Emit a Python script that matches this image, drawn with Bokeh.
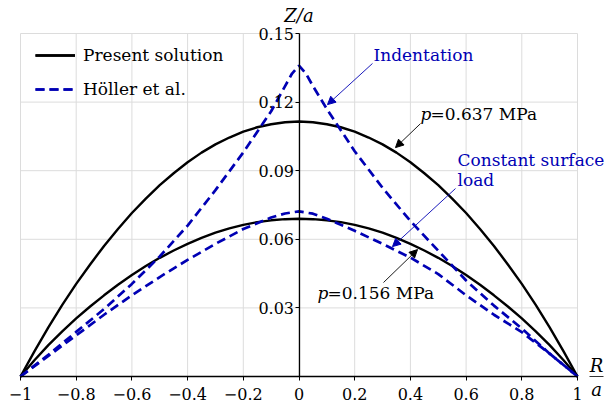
import math
from bokeh.plotting import figure
from bokeh.models import Range1d, FixedTicker, Label, Arrow, NormalHead
from bokeh.embed import file_html
from bokeh.resources import INLINE

# ---------------- data ----------------
x_present = [-1.0, -0.95, -0.9, -0.85, -0.8, -0.75, -0.7, -0.65, -0.6, -0.55, -0.5, -0.45, -0.4,
             -0.35, -0.3, -0.25, -0.2, -0.15, -0.1, -0.05, 0.0, 0.05, 0.1, 0.15, 0.2, 0.25, 0.3,
             0.35, 0.4, 0.45, 0.5, 0.55, 0.6, 0.65, 0.7, 0.75, 0.8, 0.85, 0.9, 0.95, 1.0]
z_present_high = [0.0, 0.0110, 0.0215, 0.0313, 0.0405, 0.0490, 0.0571, 0.0645, 0.0715, 0.0778,
                  0.0837, 0.0889, 0.0937, 0.0979, 0.1015, 0.1045, 0.1071, 0.1090, 0.1103, 0.1112,
                  0.1115,
                  0.1112, 0.1103, 0.1090, 0.1071, 0.1045, 0.1015, 0.0979, 0.0937, 0.0889, 0.0837,
                  0.0778, 0.0715, 0.0645, 0.0571, 0.0490, 0.0405, 0.0313, 0.0215, 0.0110, 0.0]
z_present_low = [0.0, 0.0071, 0.0137, 0.0197, 0.0254, 0.0306, 0.0355, 0.0401, 0.0444, 0.0483,
                 0.0519, 0.0551, 0.0580, 0.0606, 0.0629, 0.0648, 0.0663, 0.0675, 0.0683, 0.0688,
                 0.0690,
                 0.0688, 0.0683, 0.0675, 0.0663, 0.0648, 0.0629, 0.0606, 0.0580, 0.0551, 0.0519,
                 0.0483, 0.0444, 0.0401, 0.0355, 0.0306, 0.0254, 0.0197, 0.0137, 0.0071, 0.0]

x_holler_ind = [-1.0, -0.9, -0.8, -0.7, -0.6, -0.5, -0.4, -0.3, -0.2, -0.1, -0.05, -0.025, 0.0,
                0.025, 0.05, 0.1, 0.2, 0.3, 0.4, 0.5, 0.6, 0.7, 0.8, 0.9, 1.0]
z_holler_ind = [0.0, 0.0095, 0.0195, 0.0295, 0.0405, 0.0525, 0.066, 0.0815, 0.098, 0.116, 0.127, 0.1325, 0.136,
                0.1325, 0.127, 0.117, 0.0985, 0.0825, 0.068, 0.055, 0.042, 0.031, 0.021, 0.010, 0.0]

x_holler_surf = [-1.0, -0.9, -0.8, -0.7, -0.6, -0.5, -0.4, -0.3, -0.2, -0.1, -0.05, 0.0,
                 0.05, 0.1, 0.2, 0.3, 0.4, 0.5, 0.6, 0.7, 0.8, 0.9, 1.0]
z_holler_surf = [0.0, 0.009, 0.018, 0.027, 0.0355, 0.0435, 0.051, 0.058, 0.0645, 0.0695, 0.0713, 0.0722,
                 0.0712, 0.069, 0.0637, 0.058, 0.052, 0.0448, 0.0355, 0.027, 0.0194, 0.010, 0.0]

x_ticks = [-1.0, -0.8, -0.6, -0.4, -0.2, 0.0, 0.2, 0.4, 0.6, 0.8, 1.0]
x_tick_labels = ["\u22121", "\u22120.8", "\u22120.6", "\u22120.4", "\u22120.2", "0",
                 "0.2", "0.4", "0.6", "0.8", "1"]
y_ticks = [0.0, 0.03, 0.06, 0.09, 0.12, 0.15]
y_tick_labels = ["", "0.03", "0.06", "0.09", "0.12", "0.15"]

# ---------------- layout / style ----------------
FONT = "DejaVu Serif"
BLACK = "#000000"
BLUE = "#0000b4"
GRID = "#dcdcdc"

W, H = 610, 405
L, R, T, B = 20, 577, 33, 376          # pixel box of the data area (x -1..1, y 0..0.15)
X0, X1 = x_ticks[0], x_ticks[-1]
Y0, Y1 = y_ticks[0], y_ticks[-1]
sx = (R - L) / (X1 - X0)
sy = (B - T) / (Y1 - Y0)

p = figure(width=W, height=H, output_backend="svg", toolbar_location=None,
           x_range=Range1d(X0 - L / sx, X1 + (W - R) / sx),
           y_range=Range1d(Y0 - (H - B) / sy, Y1 + T / sy),
           min_border=0, min_border_left=0, min_border_right=0,
           min_border_top=0, min_border_bottom=0)
p.outline_line_color = None
p.background_fill_color = "white"
p.xgrid.visible = False
p.ygrid.visible = False

# grid lines restricted to the data box
p.segment(x0=x_ticks, y0=[Y0] * len(x_ticks), x1=x_ticks, y1=[Y1] * len(x_ticks),
          line_color=GRID, line_width=1)
p.segment(x0=[X0] * len(y_ticks), y0=y_ticks, x1=[X1] * len(y_ticks), y1=y_ticks,
          line_color=GRID, line_width=1)

# axes crossing at the origin
xa = p.xaxis[0]
xa.fixed_location = 0
xa.bounds = (X0, X1)
xa.ticker = FixedTicker(ticks=x_ticks)
xa.major_label_overrides = {v: t for v, t in zip(x_ticks, x_tick_labels)}
xa.major_label_text_font = FONT
xa.major_label_text_font_size = "16px"
xa.major_label_text_color = BLACK
xa.major_label_standoff = 7
xa.major_tick_out = 4
xa.major_tick_in = 0
xa.minor_tick_line_color = None
xa.axis_line_width = 1.3
xa.axis_line_color = BLACK
xa.major_tick_line_color = BLACK

ya = p.yaxis[0]
ya.fixed_location = 0
ya.bounds = (Y0, Y1)
ya.ticker = FixedTicker(ticks=y_ticks[1:])
ya.major_label_overrides = {v: t for v, t in zip(y_ticks, y_tick_labels)}
ya.major_label_text_font = FONT
ya.major_label_text_font_size = "16px"
ya.major_label_text_color = BLACK
ya.major_label_standoff = 1
ya.major_tick_out = 4
ya.major_tick_in = 0
ya.minor_tick_line_color = None
ya.axis_line_width = 1.3
ya.axis_line_color = BLACK
ya.major_tick_line_color = BLACK

# curves
p.line(x_present, z_present_high, line_color=BLACK, line_width=2.4, legend_label="Present solution")
p.line(x_present, z_present_low, line_color=BLACK, line_width=2.4, legend_label="Present solution")
p.line(x_holler_ind, z_holler_ind, line_color=BLUE, line_width=2.7, line_dash="9 5",
       legend_label="H\u00f6ller et al.")
p.line(x_holler_surf, z_holler_surf, line_color=BLUE, line_width=2.7, line_dash="9 5",
       legend_label="H\u00f6ller et al.")

lg = p.legend[0]
lg.location = (L + 15, H - 99)
lg.label_text_font = FONT
lg.label_text_font_size = "17px"
lg.label_text_color = BLACK
lg.glyph_width = 40
lg.glyph_height = 20
lg.label_height = 20
lg.label_standoff = 8
lg.padding = 12
lg.spacing = 14
lg.margin = 0
lg.border_line_color = None
lg.background_fill_alpha = 0

# axis titles
def txt(x, y, text, color=BLACK, italic=False, align="left", xoff=0, size="17px"):
    p.add_layout(Label(x=x, y=y, text=text, text_font=FONT, text_font_size=size,
                       text_font_style="italic" if italic else "normal",
                       text_align=align, text_baseline="middle", text_color=color,
                       x_offset=xoff))

txt(0, Y1 + 18 / sy, "Z/a", italic=True, align="center", size="18px")
txt(X1 + 19 / sx, Y0 + 11 / sy, "R", italic=True, align="center", size="18px")
txt(X1 + 19 / sx, Y0 - 13 / sy, "a", italic=True, align="center", size="18px")
p.segment(x0=[X1 + 12 / sx], y0=[Y0], x1=[X1 + 26 / sx], y1=[Y0], line_color=BLACK, line_width=0.8)

# annotations
def arrow(x0, y0, x1, y1, color, width=0.9):
    p.add_layout(Arrow(x_start=x0, y_start=y0, x_end=x1, y_end=y1,
                       line_color=color, line_width=width,
                       end=NormalHead(size=8, fill_color=color, line_color=color, line_width=1)))

txt(0.2675, 0.1406, "Indentation", BLUE)
arrow(0.2639, 0.1369, 0.1023, 0.1189, BLUE)

txt(0.4363, 0.1148, "p", italic=True)
txt(0.4363, 0.1148, "=0.637 MPa", xoff=10)
arrow(0.4363, 0.1106, 0.3465, 0.1001, BLACK)

txt(0.5691, 0.0947, "Constant surface", BLUE)
txt(0.5691, 0.0859, "load", BLUE)
arrow(0.5619, 0.0822, 0.3357, 0.0568, BLUE)

txt(0.0664, 0.0367, "p", italic=True)
txt(0.0664, 0.0367, "=0.156 MPa", xoff=10)
arrow(0.3034, 0.0411, 0.4255, 0.0555, BLACK)

open("out.html", "w").write(file_html(p, INLINE))
